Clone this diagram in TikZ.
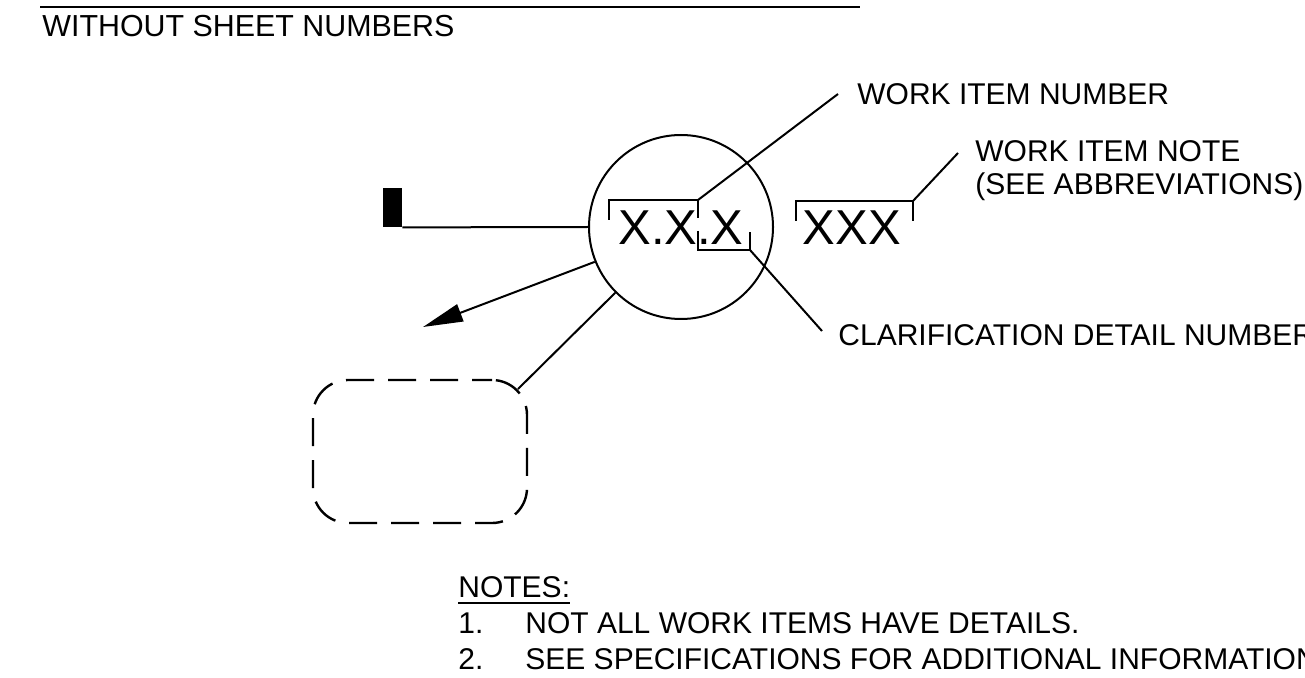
\documentclass[tikz,border=0pt]{standalone}
\usepackage{fontspec}
\setmainfont{Liberation Sans}
\usetikzlibrary{arrows.meta,calc}
\begin{document}
\begin{tikzpicture}[x=0.5pt,y=-0.5pt,
  lbl/.style={anchor=base west, inner sep=0, font=\fontsize{15}{18}\selectfont},
  big/.style={anchor=base, inner sep=0, font=\fontsize{24.5}{24.5}\selectfont},
  ln/.style={line width=1pt},
  dashbox/.style={draw, line width=1.2pt, dash pattern=on 14pt off 7pt, dash phase=4pt,
     rounded corners=17.5pt, minimum width=107pt, minimum height=71.5pt, inner sep=0},
  ]
\useasboundingbox (0,0) rectangle (1305,678);
\clip (0,0) rectangle (1305,678);
\fill[white] (0,0) rectangle (1305,678);

% heading
\coordinate (ruleL) at (40,7);
\coordinate (ruleR) at (860,7);
\draw[line width=1.2pt] (ruleL) -- (ruleR);
\node[lbl, font=\fontsize{15.2}{18}\selectfont] (head) at (42,37) {WITHOUT SHEET NUMBERS};

% circle and numbers
\node[circle, draw, ln, minimum size=92pt, inner sep=0] (circ) at (681,227) {};
\node[big] (num) at (681,245) {X.X.X};
\node[big] (note) at (852,245) {XXX};

% brackets
\coordinate (ubL) at (609,200);
\coordinate (ubR) at (698,200);
\coordinate (lbL) at (698,250);
\coordinate (lbR) at (750,250);
\coordinate (nbL) at (796,201);
\coordinate (nbR) at (913,201);
\draw[ln] ($(ubL)+(0,20)$) -- (ubL) -- (ubR) -- ($(ubR)+(0,18)$);
\draw[ln] ($(lbL)+(0,-19)$) -- (lbL) -- (lbR) -- ($(lbR)+(0,-18)$);
\draw[ln] ($(nbL)+(0,20)$) -- (nbL) -- (nbR) -- ($(nbR)+(0,20)$);

% reference flag
\node[fill=black, minimum width=9.5pt, minimum height=19.5pt, inner sep=0] (blk) at (392.5,207.5) {};
\draw[ln] (blk.south east) -- (circ.west);

% arrow
\coordinate (atip) at (423,327);
\draw[ln, -{Triangle[length=20pt,width=9pt]}] (circ.202) -- (atip);

% detail box
\node[dashbox] (detail) at (420,451.5) {};
\coordinate (dbc) at ($(detail.north east)+(-10.25,10.25)$);
\draw[ln] (circ.225) -- (dbc);

% labels
\node[lbl] (winum) at (857,105) {WORK ITEM NUMBER};
\node[lbl] (winote) at (975,162) {WORK ITEM NOTE};
\node[lbl] (winote2) at (975,195) {(SEE ABBREVIATIONS)};
\node[lbl] (cdn) at (838,346) {CLARIFICATION DETAIL NUMBER};
\coordinate (winumE) at (838,94);
\coordinate (winoteE) at (958,153);
\coordinate (cdnE) at (822,331);
\draw[ln] (ubR) -- (winumE);
\draw[ln] (nbR) -- (winoteE);
\draw[ln] (lbR) -- (cdnE);

% notes
\node[lbl] (notes) at (458,597) {NOTES:};
\draw[line width=1.1pt] ([yshift=-3pt]notes.base west) -- ([yshift=-3pt]notes.base east);
\node[lbl] (n1) at (458,633) {1.};
\node[lbl] (n1t) at (525,633) {NOT ALL WORK ITEMS HAVE DETAILS.};
\node[lbl] (n2) at (458,669) {2.};
\node[lbl] (n2t) at (525,669) {SEE SPECIFICATIONS FOR ADDITIONAL INFORMATION};
\end{tikzpicture}
\end{document}
